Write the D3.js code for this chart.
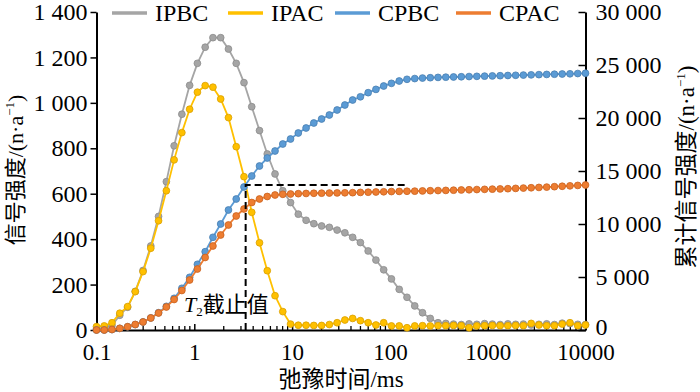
<!DOCTYPE html>
<html>
<head>
<meta charset="utf-8">
<script src="https://cdn.jsdelivr.net/npm/d3@7"></script>
<style>
  body { margin: 0; background: #fff; }
  svg { display: block; font-family: "Liberation Serif", "Noto Sans CJK SC", serif; }
</style>
</head>
<body>
<svg id="chart" width="700" height="392"></svg>
<script>
// relaxation time (ms), log spaced
const t2 = [0.1, 0.12, 0.144, 0.173, 0.208, 0.249, 0.299, 0.359, 0.431, 0.518, 0.622, 0.746, 0.896,
  1.076, 1.292, 1.551, 1.861, 2.235, 2.683, 3.221, 3.866, 4.642, 5.572, 6.69, 8.031, 9.641,
  11.57, 13.9, 16.68, 20.03, 24.04, 28.86, 34.65, 41.6, 49.94, 59.95, 71.97, 86.4,
  103.7, 124.5, 149.5, 179.5, 215.4, 258.6, 310.5, 372.8, 447.5, 537.2, 645, 774.3, 929.5,
  1116, 1340, 1608, 1931, 2318, 2783, 3340, 4010, 4814, 5780, 6939, 8330, 10000];

// incremental signal (left axis)
const ipbc = [5, 8, 20, 65, 100, 170, 262, 370, 500, 653, 811, 950, 1077, 1174, 1245, 1287, 1287,
  1237, 1174, 1089, 983, 878, 775, 687, 613, 561, 510, 483, 468, 458, 452, 440, 428, 408, 385,
  348, 308, 265, 225, 179, 144, 106, 76, 51, 32, 29, 26, 24, 27, 25, 28, 26, 24, 27, 25, 26, 22,
  25, 27, 24, 30, 28, 25, 24];
const ipac = [15, 18, 32, 74, 103, 169, 257, 360, 481, 613, 749, 869, 972, 1047, 1076, 1069, 1017,
  935, 807, 675, 518, 384, 261, 151, 81, 26, 21, 21, 20, 20, 24, 32, 44, 51, 41, 32, 22, 32, 18,
  18, 10, 18, 19, 18, 19, 19, 20, 19, 10, 18, 19, 20, 19, 19, 20, 19, 29, 22, 19, 19, 26, 32, 19, 22];

// cumulative signal (right axis)
const cpbc = [0, 0, 40, 150, 300, 510, 760, 1140, 1630, 2230, 2990, 3934, 4972, 6198, 7387, 8745,
  10000, 11321, 12358, 13490, 14528, 15471, 16226, 16887, 17547, 18019, 18585, 19057, 19528,
  19906, 20283, 20755, 21226, 21698, 22000, 22390, 22700, 23019, 23270, 23490, 23650, 23720,
  23770, 23800, 23830, 23850, 23870, 23890, 23910, 23930, 23950, 23970, 23990, 24010, 24030,
  24050, 24070, 24090, 24110, 24130, 24150, 24170, 24195, 24220];
const cpac = [0, 0, 47, 160, 311, 519, 755, 1132, 1604, 2170, 2877, 3726, 4717, 5755, 6840, 7925,
  8962, 9906, 10755, 11415, 12028, 12358, 12594, 12736, 12802, 12830, 12860, 12880, 12900, 12910,
  12920, 12935, 12945, 12955, 12980, 13000, 13020, 13040, 13060, 13075, 13090, 13100, 13120,
  13140, 13155, 13170, 13190, 13210, 13230, 13250, 13270, 13290, 13310, 13330, 13360, 13390,
  13420, 13450, 13480, 13520, 13560, 13600, 13640, 13680];

const seriesNames = ['IPBC', 'IPAC', 'CPBC', 'CPAC'];
const xTickLabels = ['0.1', '1', '10', '100', '1000', '10000'];
const leftTicks = [0, 200, 400, 600, 800, 1000, 1200, 1400];
const rightTicks = [0, 5000, 10000, 15000, 20000, 25000, 30000];

const t2Cutoff = 3.35;      // ms
const cutoffLevel = 13680;  // cumulative signal at cut-off
const dashEnd = 142;        // ms

const colors = ['#a5a5a5', '#ffc000', '#5b9bd5', '#ed7d31'];
const edges = ['#8c8c8c', '#d9a000', '#4a7fb0', '#c9621f'];

const svg = d3.select('#chart');
const plotL = 96.5, plotR = 585.5, plotT = 12, plotB = 330;

const x = d3.scaleLog().domain([0.1, 10000]).range([plotL, plotR]);
const yL = d3.scaleLinear().domain([0, 1400]).range([plotB, plotT]);
const yR = d3.scaleLinear().domain([0, 30000]).range([plotB, plotT]);

const fmt = d => d3.format(',')(d).replace(/,/g, ' ');

// axes
const gx = svg.append('g')
  .attr('transform', `translate(0,${plotB})`)
  .call(d3.axisBottom(x)
    .tickValues(xTickLabels.map(Number))
    .tickFormat((d, i) => xTickLabels[i])
    .tickSizeInner(-6).tickSizeOuter(0).tickPadding(14));

const minor = [];
[0.1, 1, 10, 100, 1000].forEach(d => { for (let k = 2; k <= 9; k++) minor.push(d * k); });
gx.selectAll('.minor').data(minor).join('line')
  .attr('class', 'minor')
  .attr('x1', d => x(d)).attr('x2', d => x(d))
  .attr('y1', 0).attr('y2', -4)
  .attr('stroke', '#000').attr('stroke-width', 1.3);

const gl = svg.append('g')
  .attr('transform', `translate(${plotL},0)`)
  .call(d3.axisLeft(yL).tickValues(leftTicks).tickFormat(fmt)
    .tickSizeInner(6).tickSizeOuter(0).tickPadding(3));

const gr = svg.append('g')
  .attr('transform', `translate(${plotR},0)`)
  .call(d3.axisRight(yR).tickValues(rightTicks).tickFormat(fmt)
    .tickSizeInner(-7).tickSizeOuter(0).tickPadding(10));
// lift the corner "0" a touch so it clears the 10000 label below
gr.selectAll('.tick text').filter(d => d === 0).attr('dy', '0.2em');

[gx, gl, gr].forEach(g => {
  g.attr('font-family', null).attr('font-size', null);
  g.select('.domain').attr('stroke', '#000').attr('stroke-width', 2);
  g.selectAll('.tick line').attr('stroke', '#000').attr('stroke-width', 1.5);
  g.selectAll('.tick text').attr('fill', '#000').style('font-size', '24px');
});
gx.selectAll('.tick text').style('font-size', '23px');

// series
const series = [
  { name: seriesNames[0], values: ipbc, y: yL },
  { name: seriesNames[1], values: ipac, y: yL },
  { name: seriesNames[2], values: cpbc, y: yR },
  { name: seriesNames[3], values: cpac, y: yR }
];

series.forEach((s, si) => {
  const line = d3.line().x((d, i) => x(t2[i])).y(d => s.y(d));
  const g = svg.append('g');
  g.append('path')
    .attr('d', line(s.values))
    .attr('fill', 'none')
    .attr('stroke', colors[si])
    .attr('stroke-width', 1.8);
  g.selectAll('circle').data(s.values).join('circle')
    .attr('cx', (d, i) => x(t2[i]))
    .attr('cy', d => s.y(d))
    .attr('r', 3.4)
    .attr('fill', colors[si])
    .attr('stroke', edges[si])
    .attr('stroke-width', 0.8);
});

// T2 cut-off
svg.append('path')
  .attr('d', `M${x(t2Cutoff)},${yL(0)}V${yR(cutoffLevel)}H${x(dashEnd)}`)
  .attr('fill', 'none')
  .attr('stroke', '#000')
  .attr('stroke-width', 2)
  .attr('stroke-dasharray', '7,4');

const lab = svg.append('text')
  .attr('x', 184).attr('y', 312)
  .style('font-size', '22px');
lab.append('tspan').text('T').style('font-style', 'italic');
lab.append('tspan').text('2').style('font-size', '13px').attr('dy', 4);
lab.append('tspan').text('截止值').attr('dy', -4);

// legend
const legendX = [112, 228, 335, 456];
const lg = svg.append('g');
seriesNames.forEach((n, i) => {
  lg.append('line')
    .attr('x1', legendX[i]).attr('x2', legendX[i] + 35)
    .attr('y1', 13).attr('y2', 13)
    .attr('stroke', colors[i]).attr('stroke-width', 3.5);
  lg.append('text')
    .attr('x', legendX[i] + 43).attr('y', 21)
    .style('font-size', '24px')
    .text(n);
});

// axis titles
const yt = svg.append('text')
  .attr('transform', 'translate(23,170) rotate(-90)')
  .attr('text-anchor', 'middle')
  .style('font-size', '22px');
yt.append('tspan').text('信号强度/(n·a');
yt.append('tspan').text('−1').style('font-size', '13px').attr('dy', -9);
yt.append('tspan').text(')').attr('dy', 9);

const yt2 = svg.append('text')
  .attr('transform', 'translate(694,167) rotate(-90)')
  .attr('text-anchor', 'middle')
  .style('font-size', '23px');
yt2.append('tspan').text('累计信号强度/(n·a');
yt2.append('tspan').text('−1').style('font-size', '13px').attr('dy', -9);
yt2.append('tspan').text(')').attr('dy', 9);

svg.append('text')
  .attr('x', 341).attr('y', 387)
  .attr('text-anchor', 'middle')
  .style('font-size', '23px')
  .text('弛豫时间/ms');
</script>
</body>
</html>
